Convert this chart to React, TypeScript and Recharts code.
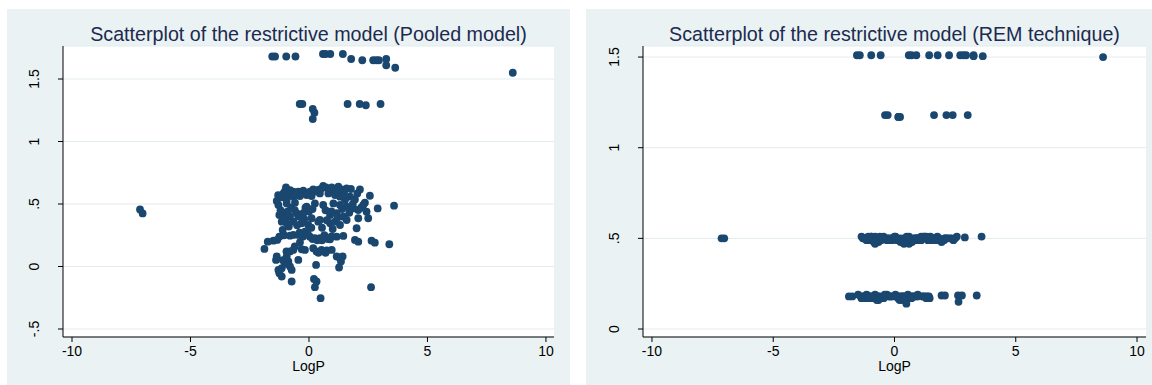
import React from 'react';
import { ScatterChart, Scatter, XAxis, YAxis, CartesianGrid } from 'recharts';

// Each row: [LogP, pooled model fit, REM fit]
type Obs = [number, number, number];

const topBand: Obs[] = [
  [-1.55, 1.68, 1.51], [-1.43, 1.68, 1.51], [-0.96, 1.68, 1.51], [-0.57, 1.68, 1.51],
  [0.59, 1.70, 1.51], [0.70, 1.70, 1.51], [0.90, 1.70, 1.51], [1.43, 1.70, 1.51],
  [1.78, 1.66, 1.51], [2.25, 1.65, 1.51], [2.71, 1.65, 1.51], [2.84, 1.65, 1.51],
  [2.95, 1.65, 1.51], [3.26, 1.66, 1.51], [3.26, 1.61, 1.505], [3.64, 1.59, 1.505],
];

const middleBand: Obs[] = [
  [-0.39, 1.30, 1.18], [-0.28, 1.30, 1.18], [0.16, 1.26, 1.17], [0.23, 1.23, 1.17],
  [0.16, 1.18, 1.17], [1.63, 1.30, 1.18], [2.14, 1.30, 1.18], [2.40, 1.29, 1.18],
  [3.02, 1.30, 1.18],
];

const outliers: Obs[] = [
  [-7.13, 0.457, 0.50], [-7.02, 0.425, 0.50], [8.60, 1.55, 1.50],
];

const clusterHigh: Obs[] = [
  [-0.97, 0.633, 0.51], [-1.08, 0.585, 0.51], [-1.36, 0.524, 0.51], [-1.22, 0.559, 0.50],
  [-0.87, 0.585, 0.49], [-0.66, 0.598, 0.50], [-0.45, 0.598, 0.51], [-0.24, 0.606, 0.50],
  [0.04, 0.598, 0.51], [0.18, 0.617, 0.49], [0.39, 0.612, 0.50], [0.60, 0.644, 0.51],
  [0.72, 0.633, 0.48], [0.96, 0.633, 0.50], [1.24, 0.638, 0.51], [1.38, 0.617, 0.49],
  [1.59, 0.625, 0.50], [1.77, 0.620, 0.51], [2.15, 0.617, 0.50], [2.04, 0.585, 0.49],
  [2.57, 0.566, 0.51], [2.36, 0.511, 0.50], [2.29, 0.492, 0.50], [2.90, 0.465, 0.505],
  [3.59, 0.487, 0.51], [-1.15, 0.553, 0.49], [-0.94, 0.537, 0.50], [-0.66, 0.559, 0.48],
  [-0.38, 0.564, 0.50], [-0.10, 0.572, 0.49], [0.11, 0.564, 0.50], [0.46, 0.585, 0.49],
  [0.82, 0.585, 0.50], [1.10, 0.572, 0.51], [1.31, 0.559, 0.50], [1.52, 0.532, 0.49],
  [1.73, 0.559, 0.50], [1.94, 0.537, 0.48], [-1.29, 0.492, 0.50], [-0.94, 0.505, 0.51],
  [-0.59, 0.511, 0.50], [-0.10, 0.479, 0.50], [0.25, 0.505, 0.48], [0.60, 0.492, 0.47],
  [1.03, 0.505, 0.50], [1.31, 0.492, 0.51], [1.59, 0.479, 0.50], [1.87, 0.465, 0.49],
  [2.08, 0.452, 0.50], [2.43, 0.439, 0.49], [-1.25, 0.412, 0.50], [-1.08, 0.426, 0.49],
  [-0.80, 0.399, 0.47], [-0.52, 0.426, 0.50], [-0.24, 0.426, 0.49], [0.11, 0.386, 0.50],
  [0.46, 0.372, 0.48], [0.89, 0.412, 0.49], [1.17, 0.426, 0.50], [1.45, 0.399, 0.49],
  [2.08, 0.386, 0.50], [2.50, 0.386, 0.50], [-1.15, 0.359, 0.50], [-0.94, 0.346, 0.49],
  [-0.66, 0.359, 0.50], [-0.31, 0.346, 0.49], [-0.03, 0.332, 0.50], [0.39, 0.359, 0.47],
  [0.89, 0.346, 0.50], [1.10, 0.359, 0.49], [1.31, 0.332, 0.50], [1.59, 0.372, 0.50],
  [2.01, 0.306, 0.49], [-1.30, 0.570, 0.50], [-1.02, 0.600, 0.50], [-0.80, 0.610, 0.51],
  [-0.55, 0.580, 0.49], [-0.30, 0.590, 0.50], [0.25, 0.600, 0.50], [0.50, 0.620, 0.51],
  [0.85, 0.610, 0.50], [1.05, 0.620, 0.49], [1.20, 0.600, 0.50], [1.48, 0.590, 0.51],
  [-1.20, 0.450, 0.50], [-1.05, 0.380, 0.50], [-0.90, 0.440, 0.49], [-0.75, 0.470, 0.50],
  [-0.60, 0.450, 0.51], [-0.45, 0.400, 0.50], [-0.20, 0.380, 0.49], [-0.15, 0.470, 0.50],
  [0.00, 0.440, 0.51], [0.15, 0.460, 0.49], [0.70, 0.450, 0.50], [0.75, 0.370, 0.49],
  [0.95, 0.440, 0.50], [1.20, 0.390, 0.51], [1.40, 0.460, 0.50], [1.70, 0.430, 0.49],
  [1.85, 0.500, 0.50], [2.20, 0.470, 0.50], [0.55, 0.310, 0.50], [0.10, 0.310, 0.49],
  [-0.50, 0.330, 0.50], [-0.85, 0.320, 0.48], [1.00, 0.300, 0.50],
];

const clusterLow: Obs[] = [
  [-1.11, 0.293, 0.18], [-0.66, 0.253, 0.18], [-0.45, 0.253, 0.17], [-0.17, 0.279, 0.18],
  [0.04, 0.239, 0.19], [0.25, 0.226, 0.18], [0.46, 0.226, 0.17], [0.68, 0.234, 0.18],
  [0.89, 0.218, 0.18], [1.17, 0.239, 0.18], [1.45, 0.245, 0.17], [1.94, 0.213, 0.185],
  [2.08, 0.199, 0.185], [2.64, 0.207, 0.15], [2.78, 0.191, 0.185], [3.39, 0.178, 0.185],
  [-1.34, 0.213, 0.17], [-1.74, 0.199, 0.18], [-1.88, 0.141, 0.18], [-1.50, 0.207, 0.19],
  [-0.38, 0.194, 0.18], [-0.80, 0.247, 0.19], [-1.25, 0.239, 0.18], [-1.36, 0.080, 0.17],
  [-1.39, 0.053, 0.18], [-0.94, 0.080, 0.17], [-0.80, 0.120, 0.18], [-0.66, 0.133, 0.16],
  [-0.45, 0.053, 0.18], [-0.31, 0.138, 0.19], [0.18, 0.146, 0.18], [0.32, 0.120, 0.16],
  [0.53, 0.133, 0.17], [0.75, 0.128, 0.18], [0.96, 0.133, 0.19], [1.17, 0.080, 0.18],
  [1.31, 0.066, 0.17], [1.42, 0.080, 0.18], [-0.17, 0.133, 0.18], [-1.29, -0.027, 0.18],
  [-1.25, -0.053, 0.17], [-1.15, -0.013, 0.19], [-1.01, 0.021, 0.18], [-0.87, 0.040, 0.17],
  [-0.80, 0.000, 0.18], [-0.73, -0.027, 0.16], [-1.15, -0.080, 0.18], [0.30, 0.013, 0.17],
  [1.27, -0.008, 0.18], [-0.73, -0.120, 0.17], [0.21, -0.100, 0.16], [0.25, -0.165, 0.17],
  [0.32, -0.120, 0.18], [0.49, -0.253, 0.14], [2.62, -0.165, 0.185], [-0.05, 0.260, 0.18],
  [0.15, 0.220, 0.17], [0.35, 0.210, 0.18], [0.55, 0.210, 0.19], [0.80, 0.220, 0.18],
  [-0.25, 0.240, 0.18], [0.65, 0.250, 0.17], [0.95, 0.240, 0.18], [-1.05, 0.250, 0.18],
  [-0.95, 0.120, 0.18], [-1.10, 0.050, 0.17], [-0.60, 0.160, 0.18], [0.40, 0.110, 0.18],
  [0.70, 0.110, 0.17], [1.35, 0.040, 0.18], [-0.40, 0.270, 0.19],
];

const xTicks = [-10, -5, 0, 5, 10];
const pooledTicks = [-0.5, 0, 0.5, 1, 1.5];
const remTicks = [0, 0.5, 1, 1.5];

const allObs = [...topBand, ...middleBand, ...outliers, ...clusterHigh, ...clusterLow];
const pooledData = allObs.map(([x, y]) => ({ x, y }));
const remData = allObs.map(([x, , y]) => ({ x, y }));

const FONT = '"Liberation Sans", Arial, sans-serif';
const NAVY = '#1a476f';
const PANEL_BG = '#eaf2f3';

// Stata style: drop the leading zero (0.5 -> .5)
const stataNum = (v: number) => {
  if (v === 0) return '0';
  const s = String(v);
  return s.replace(/^(-?)0\./, '$1.');
};

const YTick = (props: any) => {
  const { x, y, payload } = props;
  const bx = x - 17;
  return (
    <text
      x={bx}
      y={y}
      transform={`rotate(-90 ${bx} ${y})`}
      textAnchor="middle"
      fontSize={14}
      fontFamily={FONT}
      fill="#000"
    >
      {stataNum(payload.value)}
    </text>
  );
};

const dot = (p: any) => <circle cx={p.cx} cy={p.cy} r={3.9} fill={NAVY} />;

interface PanelProps {
  left: number;
  width: number;
  title: string;
  data: { x: number; y: number }[];
  xDomain: [number, number];
  yDomain: [number, number];
  yTicks: number[];
  plotLeft: number;
  plotRight: number;
}

function Panel({ left, width, title, data, xDomain, yDomain, yTicks, plotLeft, plotRight }: PanelProps) {
  const height = 376;
  const plotW = width - plotLeft - plotRight;
  return (
    <div style={{ position: 'absolute', left, top: 9, width, height, background: PANEL_BG }}>
      <ScatterChart
        width={width}
        height={height}
        margin={{ top: 37, right: plotRight, left: plotLeft - 40, bottom: 8 }}
      >
        <CartesianGrid vertical={false} stroke="#e2ebee" fill="#ffffff" fillOpacity={1} />
        <XAxis
          type="number"
          dataKey="x"
          domain={xDomain}
          ticks={xTicks}
          allowDataOverflow
          height={40}
          tickSize={5}
          tickMargin={4}
          stroke="#000"
          tick={{ fontSize: 14, fontFamily: FONT, fill: '#000' }}
          label={({ viewBox }: any) => (
            <text
              x={viewBox.x + viewBox.width / 2}
              y={viewBox.y + 34}
              textAnchor="middle"
              fontSize={14}
              fontFamily={FONT}
              fill="#000"
            >
              LogP
            </text>
          )}
        />
        <YAxis
          type="number"
          dataKey="y"
          domain={yDomain}
          ticks={yTicks}
          allowDataOverflow
          width={40}
          tickSize={5}
          stroke="#000"
          tick={<YTick />}
        />
        <Scatter data={data} fill={NAVY} shape={dot} isAnimationActive={false} />
      </ScatterChart>
      <div
        style={{
          position: 'absolute',
          left: plotLeft,
          top: 14,
          width: plotW,
          textAlign: 'center',
          fontFamily: FONT,
          fontSize: 19.7,
          lineHeight: '22px',
          color: '#1c2a4f',
          whiteSpace: 'nowrap',
        }}
      >
        {title}
      </div>
    </div>
  );
}

export default function App() {
  return (
    <div style={{ position: 'relative', width: 1152, height: 385, background: '#fff', overflow: 'hidden' }}>
      <style>{'body{margin:0}'}</style>
      <Panel
        left={7}
        width={563}
        title="Scatterplot of the restrictive model (Pooled model)"
        data={pooledData}
        xDomain={[-10.38, 10.34]}
        yDomain={[-0.564, 1.764]}
        yTicks={pooledTicks}
        plotLeft={56}
        plotRight={16}
      />
      <Panel
        left={586}
        width={566}
        title="Scatterplot of the restrictive model (REM technique)"
        data={remData}
        xDomain={[-10.37, 10.37]}
        yDomain={[-0.044, 1.561]}
        yTicks={remTicks}
        plotLeft={57}
        plotRight={6}
      />
    </div>
  );
}
